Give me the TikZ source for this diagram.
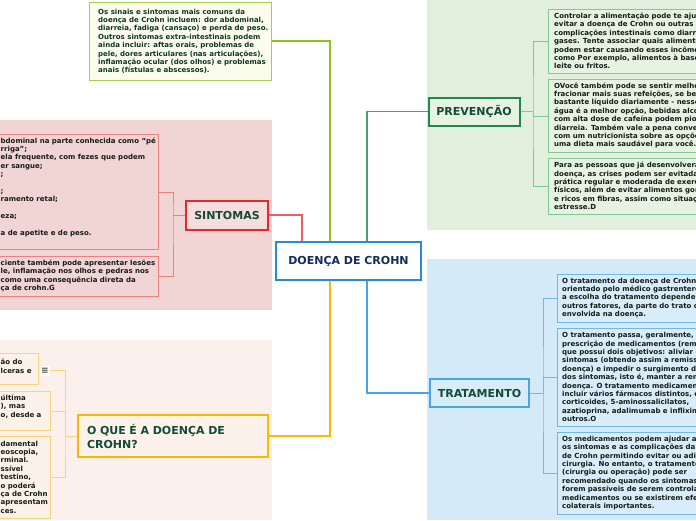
\documentclass[tikz,border=0pt]{standalone}
\usepackage{fontspec}
\setmainfont{DejaVu Sans}
\usetikzlibrary{positioning}

% cores do mapa
\definecolor{fundoverde}{RGB}{225,239,220}
\definecolor{fundoazul}{RGB}{212,234,248}
\definecolor{fundorosa}{RGB}{241,212,212}
\definecolor{fundopessego}{RGB}{251,240,235}
\definecolor{azulcentro}{RGB}{40,140,210}
\definecolor{verdeescuro}{RGB}{30,135,80}
\definecolor{verdelima}{RGB}{140,195,30}
\definecolor{vermelho}{RGB}{232,38,46}
\definecolor{amarelo}{RGB}{250,185,0}
\definecolor{azulramo}{RGB}{70,165,228}
\definecolor{verdeclaro}{RGB}{130,200,150}
\definecolor{azulclaro}{RGB}{110,185,232}
\definecolor{rosaclaro}{RGB}{240,128,128}
\definecolor{amareloclaro}{RGB}{250,212,125}
\definecolor{caixaverde}{RGB}{230,242,226}
\definecolor{caixaazul}{RGB}{216,236,249}
\definecolor{caixanota}{RGB}{252,252,236}
\definecolor{caixapessego}{RGB}{252,242,234}
\definecolor{textotitulo}{RGB}{20,75,55}
\definecolor{textocentro}{RGB}{20,45,95}
\definecolor{textocaixa}{RGB}{22,28,22}

\tikzset{
  ramo/.style={line width=1.5pt},
  chave/.style={line width=1pt},
  principal/.style={draw, line width=2pt, inner sep=0pt,
    font=\fontsize{11}{14}\selectfont\bfseries, text=textotitulo},
  caixa/.style={draw, line width=1pt, inner sep=0pt, anchor=north west},
  texto/.style={font=\fontsize{7}{8.4}\selectfont\bfseries, align=left,
    inner sep=0pt, anchor=west, text=textocaixa}
}

\begin{document}
\begin{tikzpicture}[x=1pt, y=-1pt]
    \useasboundingbox (0,0) rectangle (696,520);
    \clip (0,0) rectangle (696,520);

    % areas de fundo
    \fill[fundoverde] (427,0) rectangle (696,230);
    \fill[fundoazul] (427,259) rectangle (696,520);
    \fill[fundorosa] (0,120) rectangle (272,310);
    \fill[fundopessego] (0,340) rectangle (272,520);

    % no central e ramos principais
    \node[principal, draw=azulcentro, fill=white, text=textocentro,
      minimum width=145pt, minimum height=38pt] (crohn) at (348.5,261) {DOENÇA DE CROHN};
    \node[principal, draw=vermelho, fill=fundorosa!80!white,
      minimum width=82pt, minimum height=29pt] (sintomas) at (227,215) {SINTOMAS};
    \node[principal, draw=verdeescuro, fill=caixaverde,
      minimum width=91pt, minimum height=28pt] (prevencao) at (474,111.5) {PREVENÇÃO};
    \node[principal, draw=azulramo, fill=caixaazul,
      minimum width=99pt, minimum height=28pt] (tratamento) at (479.5,393) {TRATAMENTO};
    \node[principal, draw=amarelo, fill=caixapessego, text width=172pt, align=left,
      inner xsep=9pt, minimum height=42pt] (oque) at (173,436) {O QUE É A DOENÇA DE\\CROHN?};

    \draw[ramo, verdelima] ([xshift=-18.5pt]crohn.north) |- (89,41) coordinate (nnota);
    \draw[ramo, verdeescuro!80!white] ([xshift=18.5pt]crohn.north) |- (prevencao.west);
    \draw[ramo, vermelho!75!white] (sintomas.east) -| ([xshift=-46.5pt]crohn.north);
    \draw[ramo, amarelo] ([xshift=-18.5pt]crohn.south) |- (oque.east);
    \draw[ramo, azulramo] ([xshift=18.5pt]crohn.south) |- (tratamento.west);

    % nota de cima
    \node[caixa, draw=verdelima!80!white, fill=caixanota,
      minimum width=182pt, minimum height=78pt] (nota) at (89,2) {};
    \node[texto, text=textotitulo!70!black] at (98,41.3) {Os sinais e sintomas mais comuns da\\doença de Crohn incluem: dor abdominal,\\diarreia, fadiga (cansaço) e perda de peso.\\Outros sintomas extra-intestinais podem\\ainda incluir: aftas orais, problemas de\\pele, dores articulares (nas articulações),\\inflamação ocular (dos olhos) e problemas\\anais (fístulas e abscessos).};

    % prevencao
    \coordinate (bp) at (533,111.5);
    \node[caixa, draw=verdeclaro, fill=caixaverde, minimum width=200pt, minimum height=64pt] (p1) at (548,9) {};
    \node[caixa, draw=verdeclaro, fill=caixaverde, minimum width=200pt, minimum height=73pt] (p2) at (548,79) {};
    \node[caixa, draw=verdeclaro, fill=caixaverde, minimum width=200pt, minimum height=56pt] (p3) at (548,158) {};
    \draw[chave, verdeclaro] (prevencao.east) -- (bp);
    \draw[chave, verdeclaro] (p1.west) -| (bp) |- (p3.west);
    \draw[chave, verdeclaro] (bp) |- (p2.west);
    \node[texto] at (554,41) {Controlar a alimentação pode te ajud\\evitar a doença de Crohn ou outras\\complicações intestinais como diarre\\gases. Tente associar quais alimento\\podem estar causando esses incômo\\como Por exemplo, alimentos à base\\leite ou fritos.};
    \node[texto] at (554,115.5) {OVocê também pode se sentir melho\\fracionar mais suas refeições, se beb\\bastante líquido diariamente - nesse\\água é a melhor opção, bebidas alco\\com alta dose de cafeína podem pior\\diarreia. Também vale a pena conver\\com um nutricionista sobre as opçõe\\uma dieta mais saudável para você.};
    \node[texto] at (554,186) {Para as pessoas que já desenvolvera\\doença, as crises podem ser evitadas\\prática regular e moderada de exerc\\físicos, além de evitar alimentos gor\\e ricos em fibras, assim como situaçõ\\estresse.D};

    % tratamento
    \coordinate (bt) at (543,393);
    \node[caixa, draw=azulclaro, fill=caixaazul, minimum width=200pt, minimum height=48pt] (t1) at (557,274) {};
    \node[caixa, draw=azulclaro, fill=caixaazul, minimum width=200pt, minimum height=98pt] (t2) at (557,328) {};
    \node[caixa, draw=azulclaro, fill=caixaazul, minimum width=200pt, minimum height=82pt] (t3) at (557,432) {};
    \draw[chave, azulclaro] (tratamento.east) -- (bt);
    \draw[chave, azulclaro] (t1.west) -| (bt) |- (t3.west);
    \draw[chave, azulclaro] (bt) |- (t2.west);
    \node[texto] at (562,298) {O tratamento da doença de Crohn\\orientado pelo médico gastrentero\\a escolha do tratamento dependen\\outros fatores, da parte do trato d\\envolvida na doença.};
    \node[texto] at (562,377) {O tratamento passa, geralmente, p\\prescrição de medicamentos (rem\\que possui dois objetivos: aliviar o\\sintomas (obtendo assim a remiss\\doença) e impedir o surgimento d\\dos sintomas, isto é, manter a rem\\doença. O tratamento medicament\\incluir vários fármacos distintos, e\\corticoides, 5-aminossalicilatos,\\azatioprina, adalimumab e inflixim\\outros.O};
    \node[texto] at (562,473) {Os medicamentos podem ajudar a\\os sintomas e as complicações da\\de Crohn permitindo evitar ou adia\\cirurgia. No entanto, o tratamento\\(cirurgia ou operação) pode ser\\recomendado quando os sintomas\\forem passíveis de serem controla\\medicamentos ou se existirem efe\\colaterais importantes.};

    % sintomas
    \coordinate (bs) at (173,215);
    \node[caixa, draw=rosaclaro, fill=fundorosa, minimum width=168pt, minimum height=115pt] (s1) at (-10,134) {};
    \node[caixa, draw=rosaclaro, fill=fundorosa, minimum width=168pt, minimum height=40pt] (s2) at (-10,256) {};
    \draw[chave, rosaclaro] (sintomas.west) -- (bs);
    \draw[chave, rosaclaro] (s1.east) -| (bs) |- (s2.east);
    \node[texto] at (0.5,187.2) {bdominal na parte conhecida como “pé\\rriga”;\\ela frequente, com fezes que podem\\er sangue;\\;\\\mbox{}\\;\\ramento retal;\\\mbox{}\\eza;\\\mbox{}\\a de apetite e de peso.};
    \node[texto] at (0.5,275.8) {ciente também pode apresentar lesões\\le, inflamação nos olhos e pedras nos\\como uma consequência direta da\\ça de crohn.G};

    % o que e
    \coordinate (bo) at (65,436);
    \node[caixa, draw=amareloclaro, fill=caixapessego, minimum width=48pt, minimum height=31pt] (o1) at (-10,353) {};
    \node[caixa, draw=amareloclaro, fill=caixapessego, minimum width=60pt, minimum height=39pt] (o2) at (-10,391) {};
    \node[caixa, draw=amareloclaro, fill=caixapessego, minimum width=60pt, minimum height=82pt] (o3) at (-10,436) {};
    \node[fill=white, inner sep=1pt, minimum width=9pt, minimum height=10pt,
      font=\fontsize{9}{9}\selectfont\bfseries, text=textocaixa!80] (icone) at (45,370.5) {≡};
    \draw[chave, amareloclaro] (oque.west) -- (bo);
    \draw[chave, amareloclaro] (icone.east) -| (bo) |- (o3.east);
    \draw[chave, amareloclaro] (bo) |- (o2.east);
    \node[texto] at (0.5,366.5) {ão do\\lceras e};
    \node[texto] at (0.5,406.5) {última\\), mas\\o, desde a};
    \node[texto] at (0.5,477) {damental\\eoscopia,\\rminal.\\ssível\\testino,\\o poderá\\ça de Crohn\\apresentam\\ces.};
\end{tikzpicture}
\end{document}
